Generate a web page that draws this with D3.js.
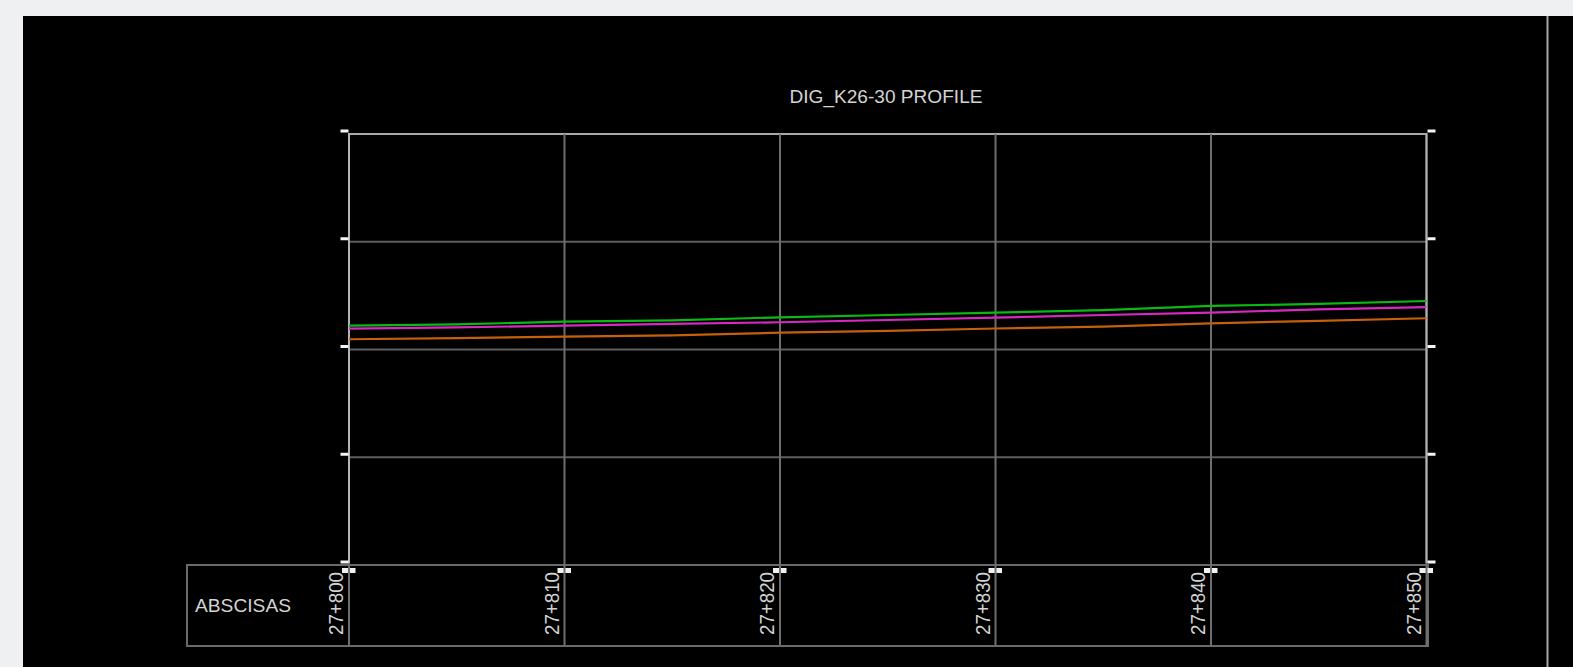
<!DOCTYPE html>
<html><head><meta charset="utf-8">
<script src="https://cdn.jsdelivr.net/npm/d3@7"></script>
<style>html,body{margin:0;padding:0;background:#eef0f2;overflow:hidden}</style>
</head><body>
<svg id="c" width="1573" height="667"></svg>
<script>
const title = "DIG_K26-30 PROFILE";
const rowLabel = "ABSCISAS";
const stations = [27800, 27805, 27810, 27815, 27820, 27825, 27830, 27835, 27840, 27845, 27850];
const stationTicks = [27800, 27810, 27820, 27830, 27840, 27850];
const elevTicks = [1500, 1510, 1520, 1530, 1540];
const greenSeries   = [1522.21, 1522.34, 1522.58, 1522.71, 1522.99, 1523.20, 1523.43, 1523.65, 1524.04, 1524.24, 1524.50];
const magentaSeries = [1521.93, 1522.06, 1522.21, 1522.37, 1522.53, 1522.74, 1522.95, 1523.20, 1523.42, 1523.73, 1523.94];
const orangeSeries  = [1520.95, 1521.05, 1521.19, 1521.32, 1521.56, 1521.73, 1521.95, 1522.13, 1522.43, 1522.66, 1522.90];

const svg = d3.select("#c");
svg.append("rect").attr("x",23).attr("y",16).attr("width",1550).attr("height",651).attr("fill","#000");
svg.append("line").attr("x1",1547.5).attr("x2",1547.5).attr("y1",16).attr("y2",667)
   .attr("stroke","#a8a8a8").attr("stroke-width",2);

const x = d3.scaleLinear().domain([27800, 27850]).range([349, 1426.5]);
const y = d3.scaleLinear().domain([1500, 1540]).range([565, 134]);
const tableTop = 565, tableBot = 646, tableLeft = 187;

const fmt = s => Math.floor(s/1000) + "+" + String(s % 1000).padStart(3, "0");

// horizontal grid
svg.selectAll(".hg").data(elevTicks.slice(1, -1)).join("line")
  .attr("x1", x(27800)).attr("x2", x(27850)).attr("y1", d=>y(d)).attr("y2", d=>y(d))
  .attr("stroke","#5e5e5e").attr("stroke-width",2);
// top frame
svg.append("line").attr("x1", x(27800)).attr("x2", x(27850)).attr("y1", y(1540)).attr("y2", y(1540))
  .attr("stroke","#a8a8a8").attr("stroke-width",2);

// table
svg.append("rect").attr("x",tableLeft).attr("y",tableTop).attr("width", x(27850)+1.5-tableLeft)
  .attr("height", tableBot-tableTop).attr("fill","none").attr("stroke","#6a6a6a").attr("stroke-width",2);

// small squares under table top
svg.selectAll(".sq").data(stationTicks).join("rect")
  .attr("x", d=>x(d)-7).attr("y", 568).attr("width", 13.5).attr("height", 5).attr("fill","#f0f0f0");

// vertical grid (through table)
svg.selectAll(".vg").data(stationTicks).join("line")
  .attr("x1", d=>x(d)).attr("x2", d=>x(d)).attr("y1", y(1540)).attr("y2", tableBot)
  .attr("stroke","#6e6e6e").attr("stroke-width",2);
// left/right frame
[27800, 27850].forEach(s => {
  svg.append("line").attr("x1", x(s)).attr("x2", x(s)).attr("y1", y(1540)-1).attr("y2", y(1500)-2)
    .attr("stroke","#b4b4b4").attr("stroke-width",2);
});

// ticks on left and right
svg.selectAll(".lt").data(elevTicks).join("rect")
  .attr("x", x(27800)-8.5).attr("y", d=>y(d)-4.5).attr("width",8).attr("height",3).attr("fill","#f4f4f4");
svg.selectAll(".rt").data(elevTicks).join("rect")
  .attr("x", x(27850)+1).attr("y", d=>y(d)-4.5).attr("width",8).attr("height",3).attr("fill","#f4f4f4");

// series
const line = d3.line().x((d,i)=>x(stations[i])).y(d=>y(d));
[[orangeSeries,"#c85f0a"],[magentaSeries,"#d629c4"],[greenSeries,"#0cb814"]].forEach(([s,c])=>{
  svg.append("path").datum(s).attr("d", line).attr("fill","none").attr("stroke",c).attr("stroke-width",2.2);
});

// title
svg.append("text").attr("x", 886).attr("y", 103).attr("text-anchor","middle")
  .attr("font-family","Liberation Sans, Arial, sans-serif").attr("font-size",19)
  .attr("textLength",193).attr("lengthAdjust","spacingAndGlyphs")
  .attr("fill","#d4d4d4").text(title);

// row label
svg.append("text").attr("x",195).attr("y",612)
  .attr("font-family","Liberation Sans, Arial, sans-serif").attr("font-size",18)
  .attr("textLength",96).attr("lengthAdjust","spacingAndGlyphs")
  .attr("fill","#d4d4d4").text(rowLabel);

// station labels
svg.selectAll(".sl").data(stationTicks).join("text")
  .attr("transform", d=>`translate(${x(d)-6},635) rotate(-90)`)
  .attr("font-family","Liberation Sans, Arial, sans-serif").attr("font-size",20)
  .attr("textLength",63).attr("lengthAdjust","spacingAndGlyphs")
  .attr("fill","#d4d4d4").text(d=>fmt(d));
</script>
</body></html>
